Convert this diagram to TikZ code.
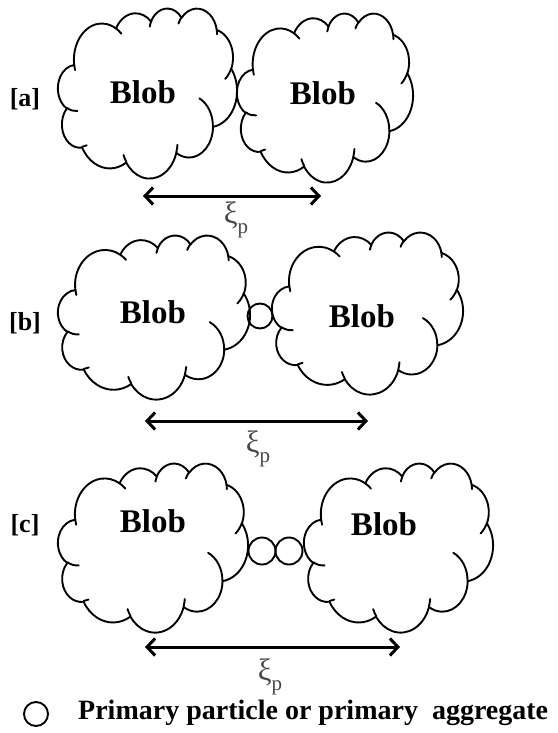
\documentclass[tikz,border=0pt]{standalone}
\usepackage{fontspec}
\setmainfont{Liberation Serif}
\usetikzlibrary{arrows.meta}

% one elliptic arc of an OOXML-style cloud: x radius, y radius, start, sweep (visual angles)
\newcommand\carc[4]{%
  \pgfextra{%
    \pgfmathsetmacro\cSt{atan2((#1)*sin(#3),(#2)*cos(#3))}%
    \pgfmathsetmacro\cEn{atan2((#1)*sin((#3)+(#4)),(#2)*cos((#3)+(#4)))}%
    \pgfmathsetmacro\cDl{mod(\cEn-\cSt+720,360)}%
    \global\let\cSt\cSt \global\let\cDl\cDl}%
  arc[start angle=\cSt, delta angle=\cDl, x radius=#1, y radius=#2]}

% cloud in box: left, top, width, height (px)
\newcommand\pptcloud[4]{%
  \pgfmathsetmacro\cwu{(#3)/43.2}%
  \pgfmathsetmacro\chu{(#4)/43.2}%
  \begin{scope}[shift={(#1,#2)}, x=\cwu pt, y=-\chu pt]
    \draw[cloudline] (3.9,14.37)
      \carc{6.753}{9.19}{-190.4875}{123.7805}
      \carc{5.333}{7.267}{-144.1024}{89.9452}
      \carc{4.365}{5.945}{-145.8079}{99.7230}
      \carc{4.857}{6.595}{-130.9861}{117.2417}
      \carc{5.333}{7.273}{-78.7089}{109.0269}
      \carc{6.775}{9.22}{-46.2673}{130.2690}
      \carc{5.785}{7.867}{0.6250}{114.0333}
      \carc{6.752}{9.215}{22.4516}{115.1726}
      \carc{7.72}{10.543}{66.2426}{75.7110}
      \carc{4.36}{5.918}{-274.9421}{146.7356}
      \carc{4.345}{5.945}{-246.8285}{152.5189}
      -- cycle;
    \draw[cloudline]
      (4.693,26.177) \carc{4.345}{5.945}{86.742}{26.4295}
      (6.928,34.899) \carc{4.36}{5.918}{73.6105}{11.4475}
      (16.478,39.09) \carc{6.752}{9.215}{137.6242}{14.0811}
      (28.827,34.751) \carc{6.752}{9.215}{6.4533}{15.9984}
      (34.129,22.954) \carc{5.785}{7.867}{-70.2924}{70.9174}
      (41.798,15.354) \carc{5.333}{7.273}{30.318}{27.7515}
      (38.324,5.426) \carc{4.857}{6.595}{-13.7443}{14.8538}
      (29.078,3.952) \carc{4.857}{6.595}{-149.1815}{18.1876}
      (22.141,4.72) \carc{4.365}{5.945}{-163.4943}{17.6876}
      (14.0,5.192) \carc{6.753}{9.19}{-66.707}{12.3194}
      (4.127,15.789) \carc{6.753}{9.19}{157.6544}{11.8582};
  \end{scope}}

\tikzset{
  cloudline/.style={line width=1.9pt, line join=round, line cap=round},
  blobtext/.style={font=\fontsize{33}{33}\selectfont\bfseries, inner sep=0pt},
  rowlabel/.style={font=\fontsize{26}{26}\selectfont\bfseries, inner sep=0pt},
  xilabel/.style={font=\fontsize{31}{31}\selectfont, text=black!72, inner sep=0pt},
  particle/.style={circle, draw, line width=1.9pt, inner sep=0pt, minimum size=#1},
  dimarrow/.style={line width=3pt, {Straight Barb[length=8pt,width=17pt,line width=3pt]}-{Straight Barb[length=8pt,width=17pt,line width=3pt]}},
}

\newcommand\xip{ξ\raisebox{-0.3em}{\fontsize{21}{21}\selectfont p}}

\begin{document}
\begin{tikzpicture}[x=1pt, y=-1pt]
  \path[use as bounding box] (0,0) rectangle (557,733);

  % ---- row a
  \pptcloud{58}{8}{179}{170}
  \pptcloud{237}{13}{176}{169}
  \node[rowlabel] (la) at (25,99) {[a]};
  \node[blobtext] (ba1) at (143,92) {Blob};
  \node[blobtext] (ba2) at (323,93) {Blob};
  \coordinate (aL) at (143,196);
  \coordinate (aR) at (321,196);
  \draw[dimarrow] (aL) -- (aR);
  \node[xilabel] (xa) at (236,220) {\xip};

  % ---- row b
  \pptcloud{58}{235}{192}{164}
  \pptcloud{272}{232}{191}{162}
  \node[particle=25pt] (pb) at (260,316) {};
  \node[rowlabel] (lb) at (25,323) {[b]};
  \node[blobtext] (bb1) at (153,312) {Blob};
  \node[blobtext] (bb2) at (362,316) {Blob};
  \coordinate (bL) at (145,421);
  \coordinate (bR) at (368,421);
  \draw[dimarrow] (bL) -- (bR);
  \node[xilabel] (xb) at (258,449) {\xip};

  % ---- row c
  \pptcloud{58}{463}{190}{169}
  \pptcloud{304}{463}{189}{169}
  \node[particle=27pt] (pc1) at (262,551) {};
  \node[particle=27pt] (pc2) at (289,551) {};
  \node[rowlabel] (lc) at (25,525) {[c]};
  \node[blobtext] (bc1) at (153,521) {Blob};
  \node[blobtext] (bc2) at (384,524) {Blob};
  \coordinate (cL) at (145,647);
  \coordinate (cR) at (400,647);
  \draw[dimarrow] (cL) -- (cR);
  \node[xilabel] (xc) at (270,677) {\xip};

  % ---- legend
  \node[particle=24pt] (leg) at (36,714) {};
  \node[anchor=west, font=\fontsize{28}{28}\selectfont\bfseries, inner sep=0pt] (legt) at (78,713) {Primary particle or primary\ \ aggregate};
\end{tikzpicture}
\end{document}
